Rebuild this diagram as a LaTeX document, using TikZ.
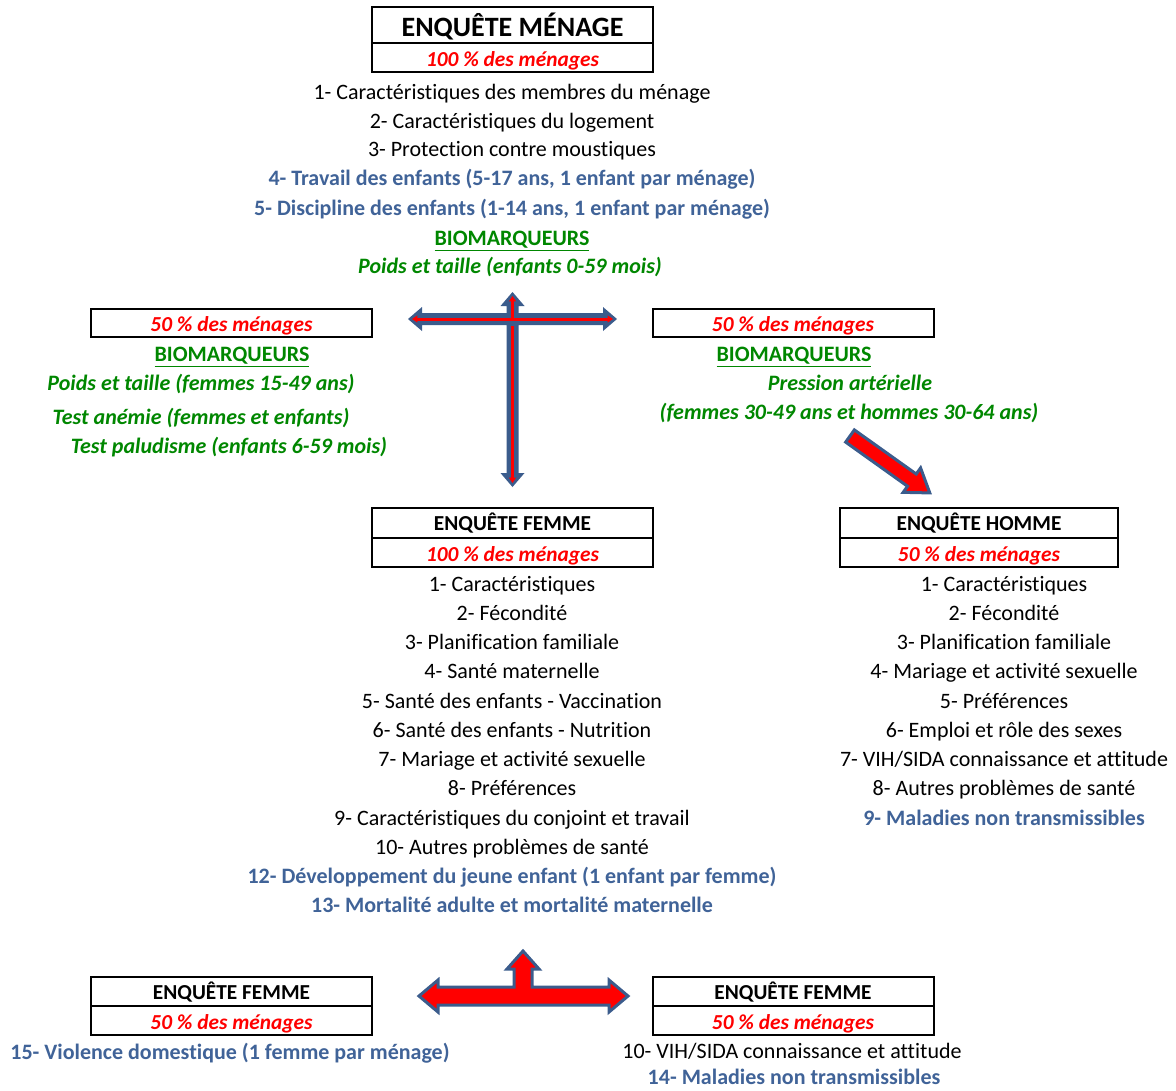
\documentclass[tikz,border=0pt]{standalone}
\usepackage{fontspec}
\setmainfont{Carlito}[Ligatures={NoCommon}]
\usetikzlibrary{positioning}
\usetikzlibrary{arrows.meta}

\definecolor{bleuE}{RGB}{64,99,152}
\definecolor{vertE}{RGB}{0,135,0}
\definecolor{bordE}{RGB}{59,92,140}

\tikzset{
  ligne/.style={inner sep=0pt, text height=14pt, text depth=1pt, font=\fontsize{16.5}{19}\selectfont},
  bleu/.style={ligne, text=bleuE, font=\fontsize{16.5}{19}\selectfont\bfseries},
  vert/.style={ligne, text=vertE, font=\fontsize{16.5}{19}\selectfont\bfseries\itshape},
  biom/.style={ligne, text=vertE, font=\fontsize{16.5}{19}\selectfont\bfseries},
  titre/.style={draw, line width=1.5pt, outer sep=0pt, inner sep=0pt, minimum width=210.75pt, minimum height=22.5pt,
    text height=11.6pt, text depth=0pt, font=\fontsize{16}{19}\selectfont\bfseries},
  pct/.style={draw, line width=1.5pt, outer sep=0pt, inner sep=0pt, minimum width=210.75pt, minimum height=22pt,
    text height=14pt, text depth=1pt, text=red, font=\fontsize{16}{19}\selectfont\bfseries\itshape},
  fleche/.style={fill=red, draw=bordE, line width=2.25pt, line join=miter},
  trait/.style={red, line width=2.25pt, -{Triangle[length=4pt,width=5pt]}}
}

\begin{document}
\begin{tikzpicture}[x=0.75pt, y=-0.75pt]
    \useasboundingbox (0,0) rectangle (1176,1090);
    % menage
    \node[titre, minimum height=27pt, text height=17.5pt, text depth=0pt, font=\fontsize{21}{24}\selectfont\bfseries] (menT) at (512.5,25) {ENQUÊTE MÉNAGE};
    \node[pct, below=0pt of menT] (menP) {100 \% des ménages};
    \node[ligne] (m1) at (512,91) {1- Caractéristiques des membres du ménage};
    \node[ligne] (m2) at (512,120) {2- Caractéristiques du logement};
    \node[ligne] (m3) at (512,148) {3- Protection contre moustiques};
    \node[bleu] (m4) at (512,177) {4- Travail des enfants (5-17 ans, 1 enfant par ménage)};
    \node[bleu] (m5) at (512,207) {5- Discipline des enfants (1-14 ans, 1 enfant par ménage)};
    \node[biom] (m6) at (512,237) {\underline{BIOMARQUEURS}};
    \node[vert] (m7) at (510,265) {Poids et taille (enfants 0-59 mois)};

    % biomarqueurs gauche
    \node[pct, minimum height=21pt] (gP) at (231.5,323) {50 \% des ménages};
    \node[biom] (g1) at (232,353) {\underline{BIOMARQUEURS}};
    \node[vert] (g2) at (201,382) {Poids et taille (femmes 15-49 ans)};
    \node[vert] (g3) at (201,416) {Test anémie (femmes et enfants)};
    \node[vert] (g4) at (229,445) {Test paludisme (enfants 6-59 mois)};

    % biomarqueurs droite
    \node[pct, minimum height=21pt] (dP) at (793,323) {50 \% des ménages};
    \node[biom] (d1) at (794,353) {\underline{BIOMARQUEURS}};
    \node[vert] (d2) at (850,382) {Pression artérielle};
    \node[vert] (d3) at (849,411) {(femmes 30-49 ans et hommes 30-64 ans)};

    % fleche en T
    \fill[bordE] (408,319) -- (422,307) -- (422,313) -- (506.5,313) -- (506.5,306) -- (500.5,306)
        -- (512.5,292) -- (524.5,306) -- (518.5,306) -- (518.5,313) -- (603,313) -- (603,307)
        -- (617,319) -- (603,331) -- (603,325) -- (518.5,325) -- (518.5,473) -- (524.5,473)
        -- (512.5,487) -- (500.5,473) -- (506.5,473) -- (506.5,325) -- (422,325) -- (422,331) -- cycle;
    \coordinate (tC) at (512.5,319);
    \draw[trait] (tC) -- (412,319);
    \draw[trait] (tC) -- (613,319);
    \draw[trait] (tC) -- (512.5,296);
    \draw[trait] (512.5,326) -- (512.5,483);

    % fleche diagonale
    \begin{scope}[shift={(850,436)}, rotate=-35.5]
        \draw[fleche] (0,-7.5) -- (76,-7.5) -- (76,-15) -- (98,0) -- (76,15) -- (76,7.5) -- (0,7.5) -- cycle;
    \end{scope}

    % femme
    \node[titre] (femT) at (512.5,523) {ENQUÊTE FEMME};
    \node[pct, below=0pt of femT] (femP) {100 \% des ménages};
    \node[ligne] (f1) at (512,583) {1- Caractéristiques};
    \node[ligne] (f2) at (512,612) {2- Fécondité};
    \node[ligne] (f3) at (512,641) {3- Planification familiale};
    \node[ligne] (f4) at (512,670) {4- Santé maternelle};
    \node[ligne] (f5) at (512,700) {5- Santé des enfants - Vaccination};
    \node[ligne] (f6) at (512,729) {6- Santé des enfants - Nutrition};
    \node[ligne] (f7) at (512,758) {7- Mariage et activité sexuelle};
    \node[ligne] (f8) at (512,787) {8- Préférences};
    \node[ligne] (f9) at (512,817) {9- Caractéristiques du conjoint et travail};
    \node[ligne] (f10) at (512,846) {10- Autres problèmes de santé};
    \node[bleu] (f12) at (512,875) {12- Développement du jeune enfant (1 enfant par femme)};
    \node[bleu] (f13) at (512,904) {13- Mortalité adulte et mortalité maternelle};

    % homme
    \node[titre, minimum width=208.5pt] (homT) at (979,523) {ENQUÊTE HOMME};
    \node[pct, minimum width=208.5pt, below=0pt of homT] (homP) {50 \% des ménages};
    \node[ligne] (h1) at (1004,583) {1- Caractéristiques};
    \node[ligne] (h2) at (1004,612) {2- Fécondité};
    \node[ligne] (h3) at (1004,641) {3- Planification familiale};
    \node[ligne] (h4) at (1004,670) {4- Mariage et activité sexuelle};
    \node[ligne] (h5) at (1004,700) {5- Préférences};
    \node[ligne] (h6) at (1004,729) {6- Emploi et rôle des sexes};
    \node[ligne] (h7) at (1004,758) {7- VIH/SIDA connaissance et attitude};
    \node[ligne] (h8) at (1004,787) {8- Autres problèmes de santé};
    \node[bleu] (h9) at (1004,817) {9- Maladies non transmissibles};

    % fleche en bas
    \draw[fleche] (419,996) -- (438,980) -- (438,987) -- (514,987) -- (514,969) -- (507,969) -- (523,951)
        -- (539,969) -- (532,969) -- (532,987) -- (609,987) -- (609,980) -- (628,996) -- (609,1012)
        -- (609,1005) -- (438,1005) -- (438,1012) -- cycle;

    % femme 50 %
    \node[titre, minimum height=21.75pt] (vioT) at (231.5,991.5) {ENQUÊTE FEMME};
    \node[pct, below=0pt of vioT] (vioP) {50 \% des ménages};
    \node[bleu] (v1) at (230,1051) {15- Violence domestique (1 femme par ménage)};

    \node[titre, minimum height=21.75pt] (vihT) at (793,991.5) {ENQUÊTE FEMME};
    \node[pct, below=0pt of vihT] (vihP) {50 \% des ménages};
    \node[ligne] (w1) at (792,1050) {10- VIH/SIDA connaissance et attitude};
    \node[bleu] (w2) at (794,1076) {14- Maladies non transmissibles};
\end{tikzpicture}
\end{document}
